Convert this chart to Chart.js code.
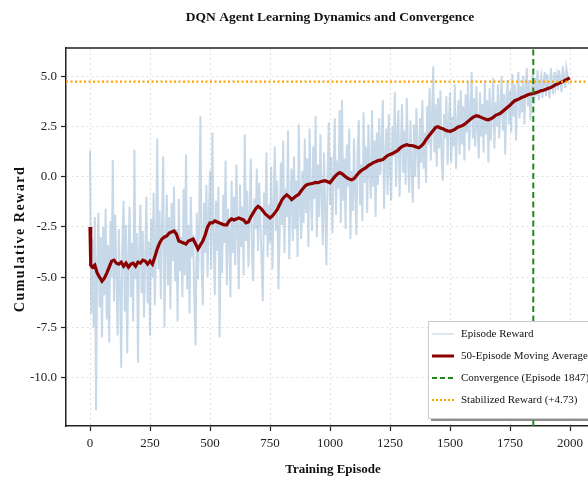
<!DOCTYPE html>
<html>
<head>
<meta charset="utf-8">
<script src="https://cdn.jsdelivr.net/npm/chart.js@4.4.1/dist/chart.umd.min.js"></script>
<style>
html,body{margin:0;padding:0;background:#fff;overflow:hidden;width:588px;height:483px;}
canvas{display:block;}
</style>
</head>
<body>
<canvas id="c" width="600" height="483"></canvas>
<script>
// ---------------- DATA ----------------
const EPISODE_STEP = 5; // episode rewards sampled every 5 episodes (0..1995)
const episodeRewards = [
  1.3, -6.8, -3.1, -7.5, -2.0, -11.6, -4.2, -1.8, -6.5, -3.0,
  -8.0, -2.5, -5.9, -1.6, -7.1, -3.4, -8.25, -2.2, -5.0, 0.84,
  -6.2, -1.9, -4.8, -7.9, -2.6, -5.5, -9.5, -3.0, -1.2, -6.7,
  -2.4, -8.8, -4.0, -1.5, -6.0, -3.3, -7.2, 1.34, -5.1, -2.8,
  -9.25, -3.6, -1.4, -5.8, -2.7, -7.0, -4.1, -1.0, -6.3, -3.2,
  -7.9, -2.1, -5.0, -0.8, -6.4, -3.5, 1.9, -4.6, -1.7, -6.1,
  -2.3, 1.0, -7.5, -3.8, -0.9, -5.4, -2.0, -6.6, -1.3, -4.2,
  -0.5, -5.2, -2.6, -7.2, -1.1, -4.7, -3.0, -6.0, -0.6, -4.9,
  1.1, -5.6, -2.4, -6.8, -1.0, -4.0, -2.9, -6.3, -8.4, -1.8,
  -5.1, -2.2, 3.0, -4.5, -6.4, -1.3, -3.8, -0.4, -5.0, -2.0,
  0.3, -4.6, 2.2, -3.0, -5.9, -1.2, -3.7, -0.5, -8.0, -2.4,
  -4.8, -0.9, -3.3, 0.8, -5.4, -1.6, -2.9, -6.0, -0.2, -3.8,
  -1.0, -4.4, 0.6, -2.8, -5.6, -0.4, -3.5, -1.5, -4.9, 2.1,
  -3.2, -0.7, -4.5, -1.9, 0.9, -3.9, -5.2, -1.1, -2.6, 0.4,
  -3.7, -0.3, -2.2, -4.3, -6.2, -0.8, -2.9, 1.2, -4.0, -1.4,
  -3.3, 0.5, -4.6, -1.6, 1.5, -2.7, -0.2, -5.6, -3.0, 0.7,
  -2.4, 1.8, -3.8, -0.6, -2.0, 2.3, -4.1, -1.3, 0.4, -3.2,
  1.0, -2.6, -0.2, -4.0, 2.6, -1.5, -3.1, 0.3, -2.3, 1.9,
  -1.8, 0.9, -3.5, 2.4, -0.8, -2.7, 1.5, -1.1, 3.0, -3.0,
  0.6, -2.0, 2.1, -0.9, -3.4, 1.2, -1.6, -4.4, 0.2, 2.7,
  -1.4, 1.0, -2.8, 0.4, 2.9, -1.9, 0.8, -0.6, 3.3, -2.3,
  3.8, -1.2, 0.9, -2.6, 1.6, -0.5, 2.4, -3.1, 0.3, -1.7,
  1.9, -0.8, -2.9, 1.2, 2.8, -1.4, 0.6, -2.2, 3.2, -0.3,
  1.5, -1.8, 2.6, 0.2, -1.1, 3.3, -0.5, 1.8, -2.0, 2.2,
  -0.4, 2.9, 0.1, 1.6, 3.8, -1.6, 0.9, 2.4, -0.9, 3.1,
  0.3, -1.2, 2.5, 1.0, 4.2, -0.5, 2.0, 3.3, -1.0, 1.4,
  3.6, 0.2, 2.3, -0.4, 3.9, 1.1, -0.8, 2.8, 0.5, -1.3,
  2.6, 0.0, 3.4, 1.3, -0.6, 2.9, 0.7, 3.8, 0.4, 2.2,
  -0.3, 3.5, 1.6, 4.4, 0.8, 2.9, 5.48, 1.2, 3.6, 0.5,
  3.9, 1.4, 4.3, 0.9, -0.2, 3.1, 1.9, 4.0, 0.6, 2.7,
  4.2, 0.7, 3.0, 1.5, 4.6, 0.4, 2.6, 3.8, 1.1, 4.3,
  1.6, 3.5, 0.8, 4.1, 2.2, 4.7, 1.3, 3.2, 5.2, 1.9,
  3.9, 1.5, 4.5, 2.4, 0.9, 4.2, 2.0, 3.6, 1.2, 4.8,
  2.1, 3.8, 0.7, 4.4, 1.8, 3.2, 4.9, 1.4, 3.7, 2.5,
  4.6, 1.9, 3.4, 5.0, 2.3, 4.1, 1.1, 3.9, 4.8, 2.6,
  4.3, 2.2, 5.1, 3.0, 4.6, 1.8, 4.0, 5.2, 2.9, 4.5,
  3.2, 5.0, 2.6, 4.4, 5.4, 3.5, 4.8, 2.8, 4.2, 5.1,
  3.6, 4.9, 4.0, 5.3, 3.8, 4.6, 5.0, 3.9, 4.7, 5.2,
  4.0, 5.1, 4.4, 3.9, 5.4, 4.6, 4.1, 5.2, 4.5, 5.0,
  4.3, 5.3, 4.7, 4.2, 5.5, 4.9, 4.4, 5.4, 5.0, 4.6
];

// 50-episode moving average: first points, then every 10 episodes from 10 to 1990, then last episode
const maHeadEpisodes = [0, 3];
const maHeadValues = [-2.5, -4.4];
const MA_STEP = 10;
const maValues = [
  -4.5, -4.4, -4.8, -5.0, -5.2, -5.05, -4.8, -4.5, -4.2,
  -4.15, -4.3, -4.35, -4.25, -4.45, -4.3, -4.5, -4.35, -4.3, -4.45,
  -4.25, -4.3, -4.15, -4.2, -4.35, -4.2, -4.35, -4.0, -3.6, -3.3,
  -3.1, -3.0, -2.95, -2.8, -2.75, -2.7, -2.85, -3.2, -3.25, -3.3,
  -3.35, -3.2, -3.15, -3.1, -3.35, -3.6, -3.4, -3.2, -2.9, -2.5,
  -2.3, -2.3, -2.2, -2.25, -2.3, -2.35, -2.4, -2.4, -2.2, -2.1,
  -2.15, -2.1, -2.05, -2.1, -2.15, -2.3, -2.25, -2.0, -1.8, -1.6,
  -1.47, -1.55, -1.7, -1.85, -1.95, -2.05, -1.95, -1.8, -1.64, -1.4,
  -1.15, -1.0, -0.9, -1.0, -1.14, -1.05, -0.95, -0.88, -0.7, -0.55,
  -0.42, -0.38, -0.35, -0.33, -0.28, -0.3, -0.25, -0.22, -0.2, -0.25,
  -0.3, -0.15, 0.0, 0.12, 0.2, 0.15, 0.05, -0.05, -0.12, -0.15,
  -0.1, 0.05, 0.2, 0.3, 0.38, 0.45, 0.55, 0.62, 0.7, 0.74,
  0.8, 0.82, 0.85, 0.95, 1.05, 1.1, 1.15, 1.22, 1.28, 1.4,
  1.5, 1.55, 1.59, 1.55, 1.55, 1.52, 1.48, 1.44, 1.52, 1.65,
  1.84, 2.0, 2.15, 2.3, 2.45, 2.48, 2.42, 2.38, 2.32, 2.28,
  2.25, 2.3, 2.35, 2.45, 2.5, 2.53, 2.6, 2.7, 2.8, 2.9,
  2.98, 3.03, 3.0, 2.95, 2.9, 2.85, 2.83, 2.88, 2.95, 3.05,
  3.1, 3.15, 3.25, 3.35, 3.45, 3.55, 3.68, 3.78, 3.83, 3.88,
  3.95, 3.99, 4.05, 4.1, 4.12, 4.15, 4.19, 4.22, 4.28, 4.3,
  4.35, 4.4, 4.43, 4.5, 4.58, 4.62, 4.68, 4.73, 4.8, 4.85
];
const maLastEpisode = 1999;
const maLastValue = 4.92;

const convergenceEpisode = 1847;
const stabilizedReward = 4.73;

const xTicks = [0, 250, 500, 750, 1000, 1250, 1500, 1750, 2000];
const yTicks = [-10.0, -7.5, -5.0, -2.5, 0.0, 2.5, 5.0];
const xRange = [-100, 2100];
const yRange = [-12.4, 6.4];

const chartTitle = 'DQN Agent Learning Dynamics and Convergence';
const xTitle = 'Training Episode';
const yTitle = 'Cumulative Reward';
const legendLabels = ['Episode Reward', '50-Episode Moving Average',
  'Convergence (Episode ' + convergenceEpisode + ')',
  'Stabilized Reward (+' + stabilizedReward.toFixed(2) + ')'];

// ---------------- BUILD ----------------
const rewardPoints = episodeRewards.map((v, i) => ({x: i * EPISODE_STEP, y: v}));
const maPoints = maHeadEpisodes.map((e, i) => ({x: e, y: maHeadValues[i]}))
  .concat(maValues.map((v, i) => ({x: (i + 1) * MA_STEP, y: v})))
  .concat([{x: maLastEpisode, y: maLastValue}]);

const SERIF = "'Liberation Serif', 'DejaVu Serif', serif";
const COLORS = {
  reward: 'rgba(70,130,180,0.30)',
  ma: '#8b0000',
  conv: '#1e8a1e',
  stab: '#ffa500'
};

const frameAndLegend = {
  id: 'frameAndLegend',
  afterDraw(chart) {
    const {ctx, chartArea: a} = chart;
    ctx.save();
    // frame (top/right spines)
    ctx.strokeStyle = '#222';
    ctx.lineWidth = 1.5;
    ctx.beginPath();
    ctx.moveTo(a.left, a.top); ctx.lineTo(a.right, a.top); ctx.lineTo(a.right, a.bottom);
    ctx.stroke();

    // title centred over the plot area
    ctx.font = 'bold 13.5px ' + SERIF;
    ctx.fillStyle = '#111';
    ctx.textAlign = 'center';
    ctx.textBaseline = 'middle';
    ctx.fillText(chartTitle, (a.left + a.right) / 2, 18);

    // x-axis title
    ctx.font = 'bold 13px ' + SERIF;
    ctx.fillText(xTitle, (a.left + a.right) / 2 + 3, 470);

    // y-axis title with letter spacing
    ctx.save();
    ctx.translate(20, (a.top + a.bottom) / 2 + 2);
    ctx.rotate(-Math.PI / 2);
    ctx.font = 'bold 14px ' + SERIF;
    try { ctx.letterSpacing = '1.5px'; } catch (e) {}
    ctx.fillText(yTitle, 0, 0);
    ctx.restore();

    // legend (lower right)
    const lx = 428, ly = 321, lw = 180, lh = 97;
    ctx.fillStyle = 'rgba(120,120,120,0.85)';
    ctx.fillRect(lx + 3, ly + 3, lw, lh);
    ctx.fillStyle = '#ffffff';
    ctx.fillRect(lx, ly, lw, lh);
    ctx.strokeStyle = '#cccccc';
    ctx.lineWidth = 1;
    ctx.strokeRect(lx + 0.5, ly + 0.5, lw, lh);

    const rows = [334, 356, 378, 400];
    const styles = [
      {c: COLORS.reward, w: 1.2, d: []},
      {c: COLORS.ma, w: 3, d: []},
      {c: COLORS.conv, w: 2, d: [5, 3]},
      {c: COLORS.stab, w: 2, d: [2, 2]}
    ];
    ctx.font = '11px ' + SERIF;
    ctx.textAlign = 'left';
    ctx.textBaseline = 'middle';
    rows.forEach((y, i) => {
      const s = styles[i];
      ctx.strokeStyle = s.c;
      ctx.lineWidth = s.w;
      ctx.setLineDash(s.d);
      ctx.beginPath();
      ctx.moveTo(432, y); ctx.lineTo(454, y);
      ctx.stroke();
      ctx.setLineDash([]);
      ctx.fillStyle = '#111';
      ctx.fillText(legendLabels[i], 461, y);
    });
    ctx.restore();
  }
};

new Chart(document.getElementById('c'), {
  type: 'line',
  data: {
    datasets: [
      {
        label: legendLabels[0], data: rewardPoints,
        borderColor: COLORS.reward, borderWidth: 2, pointRadius: 0, tension: 0, order: 4
      },
      {
        label: legendLabels[1], data: maPoints,
        borderColor: COLORS.ma, borderWidth: 3.2, pointRadius: 0, tension: 0, order: 3
      },
      {
        label: legendLabels[2],
        data: [{x: convergenceEpisode, y: yRange[0]}, {x: convergenceEpisode, y: yRange[1]}],
        borderColor: COLORS.conv, borderWidth: 2, borderDash: [6, 3.5], pointRadius: 0, order: 2
      },
      {
        label: legendLabels[3],
        data: [{x: xRange[0], y: stabilizedReward}, {x: xRange[1], y: stabilizedReward}],
        borderColor: COLORS.stab, borderWidth: 2.2, borderDash: [2, 2.5], pointRadius: 0, order: 1
      }
    ]
  },
  options: {
    responsive: false,
    animation: false,
    events: [],
    layout: {padding: {left: 0, right: 6, top: 48, bottom: 0}},
    plugins: {
      legend: {display: false},
      tooltip: {enabled: false},
      title: {display: false}
    },
    scales: {
      x: {
        type: 'linear',
        min: xRange[0], max: xRange[1],
        afterBuildTicks: s => { s.ticks = xTicks.map(v => ({value: v})); },
        afterFit: s => { s.height = 57; },
        ticks: {
          color: '#222', font: {family: SERIF, size: 13}, padding: 5,
          maxRotation: 0, autoSkip: false,
          callback: v => String(v)
        },
        grid: {
          color: 'rgba(0,0,0,0.12)', lineWidth: 1,
          tickColor: '#222', tickLength: 5, tickWidth: 1.2, tickBorderDash: []
        },
        border: {display: true, color: '#222', width: 1.5, dash: [2, 3]},
        title: {display: false}
      },
      y: {
        type: 'linear',
        min: yRange[0], max: yRange[1],
        afterBuildTicks: s => { s.ticks = yTicks.map(v => ({value: v})); },
        afterFit: s => { s.width = 66; },
        ticks: {
          color: '#222', font: {family: SERIF, size: 13}, padding: 4,
          autoSkip: false,
          callback: v => Number(v).toFixed(1)
        },
        grid: {
          color: 'rgba(0,0,0,0.12)', lineWidth: 1,
          tickColor: '#222', tickLength: 5, tickWidth: 1.2, tickBorderDash: []
        },
        border: {display: true, color: '#222', width: 1.5, dash: [2, 3]},
        title: {display: false}
      }
    }
  },
  plugins: [frameAndLegend]
});
</script>
</body>
</html>
